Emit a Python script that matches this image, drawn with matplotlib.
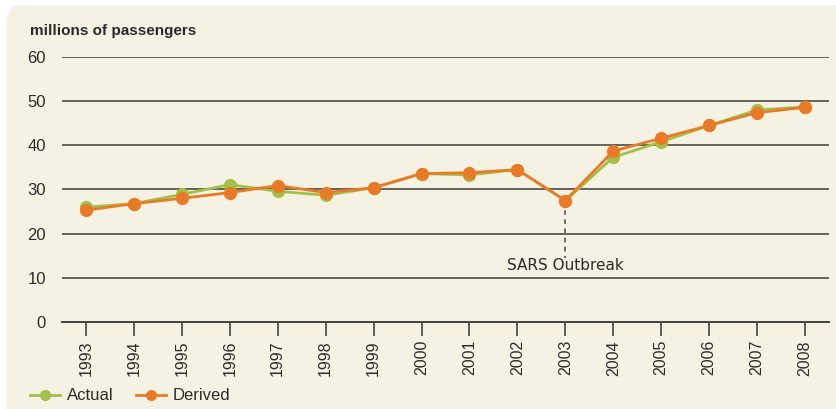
import matplotlib
matplotlib.use("Agg")
import matplotlib.pyplot as plt
from matplotlib.patches import FancyBboxPatch
from matplotlib.lines import Line2D

years = list(range(1993, 2009))
actual = [26.0, 26.8, 28.9, 31.1, 29.6, 28.7, 30.4, 33.6, 33.3, 34.5, 27.5, 37.3, 40.8, 44.5, 48.0, 48.7]
derived = [25.3, 26.8, 28.0, 29.3, 30.9, 29.3, 30.4, 33.6, 33.8, 34.5, 27.5, 38.7, 41.6, 44.5, 47.4, 48.6]
yticks = [0, 10, 20, 30, 40, 50, 60]
event_year = 2003
event_label = "SARS Outbreak"

W, H = 836, 409
bg = "#f5f1e3"
green = "#a3c04a"
orange = "#e87b2a"
grid_c = "#5a5850"
text_c = "#2b2b2b"

fig = plt.figure(figsize=(W / 100, H / 100), dpi=100)
fig.patch.set_facecolor("white")

# background card in pixel coordinates
bax = fig.add_axes([0, 0, 1, 1], zorder=-10)
bax.set_xlim(0, W)
bax.set_ylim(H, 0)
bax.axis("off")
bax.add_patch(FancyBboxPatch((7, 5), W + 40, H + 40, boxstyle="round,pad=0,rounding_size=16",
                             facecolor=bg, edgecolor="none"))

x0, x1 = 62, 829
ytop, ybot = 57, 322
ax = fig.add_axes([x0 / W, 1 - ybot / H, (x1 - x0) / W, (ybot - ytop) / H], zorder=1)
ax.set_facecolor("none")
ax.set_xlim(1992.5, 2008.5)
ax.set_ylim(0, 60)

for v in yticks[1:]:
    ax.axhline(v, color=grid_c, lw=1.3, zorder=1)
ax.axhline(0, color="#333333", lw=1.3, zorder=1, clip_on=False)

for s in ax.spines.values():
    s.set_visible(False)

ax.set_yticks(yticks)
ax.set_yticklabels([str(v) for v in yticks], fontsize=12, color=text_c, family="Liberation Sans")
ax.tick_params(axis="y", length=0, pad=11.5)
ax.set_xticks(years)
ax.set_xticklabels([str(y) for y in years], rotation=90, fontsize=11.5, color=text_c, family="Liberation Sans")
ax.tick_params(axis="x", length=10, width=1.2, color="#444444", pad=3, direction="out")

ev_val = derived[years.index(event_year)]
ax.plot([event_year, event_year], [ev_val, 14.5], ls=(0, (3, 3)), color="#444444", lw=1.1, zorder=2)
ax.text(event_year, 12.8, event_label, ha="center", va="center", fontsize=11, color=text_c,
        family="DejaVu Sans")

ax.plot(years, actual, color=green, lw=2, marker="o", ms=8.5, zorder=3)
ax.plot(years, derived, color=orange, lw=2, marker="o", ms=8.5, zorder=4)

fig.text(30 / W, 1 - 31 / H, "millions of passengers", fontsize=11, fontweight="bold",
         color=text_c, va="center", ha="left", family="Liberation Sans")

handles = [Line2D([], [], color=green, lw=2, marker="o", ms=7),
           Line2D([], [], color=orange, lw=2, marker="o", ms=7)]
leg = fig.legend(handles, ["Actual", "Derived"], loc="center left", bbox_to_anchor=(30 / W, 1 - 396 / H),
                 ncol=2, frameon=False, handlelength=1.8, handletextpad=0.42, columnspacing=1.35,
                 borderpad=0, borderaxespad=0,
                 prop={"family": "Liberation Sans", "size": 12})
for t in leg.get_texts():
    t.set_color(text_c)

fig.savefig("out.png", dpi=100, facecolor=fig.get_facecolor())
